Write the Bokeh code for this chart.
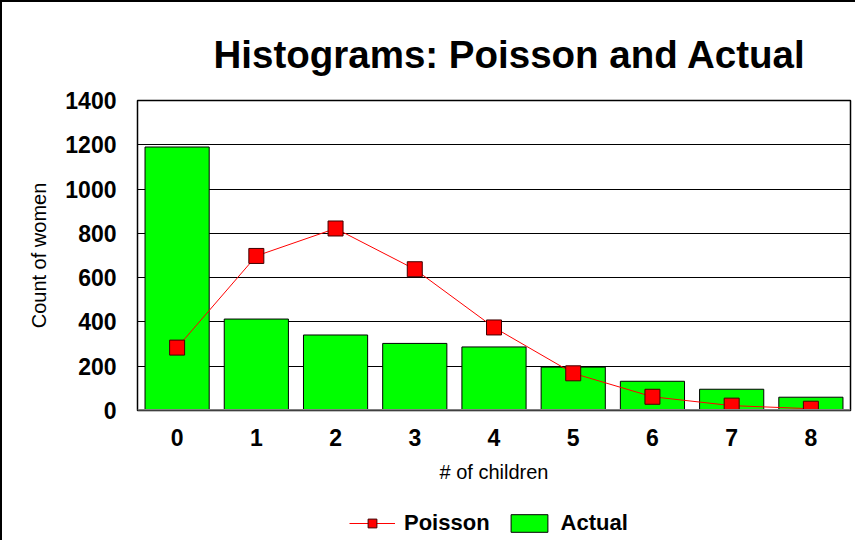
from bokeh.plotting import figure
from bokeh.layouts import column
from bokeh.models import Legend, LegendItem, FixedTicker, Range1d, Span
from bokeh.embed import file_html
from bokeh.resources import INLINE

children = ["0", "1", "2", "3", "4", "5", "6", "7", "8"]
actual = [1190, 413, 341, 303, 287, 196, 132, 96, 60]
poisson = [284, 698, 822, 638, 375, 168, 62, 22, 8]
y_ticks = [0, 200, 400, 600, 800, 1000, 1200, 1400]

FONT = "Liberation Sans"

p = figure(x_range=children, width=853, height=498, output_backend="svg",
           toolbar_location=None, min_border_left=135, min_border_right=5,
           min_border_top=98, min_border_bottom=90)
p.y_range = Range1d(0, 1400)
p.background_fill_color = "white"
p.border_fill_color = "white"
p.outline_line_color = "black"
p.outline_line_width = 1.5

p.title.text = "Histograms: Poisson and Actual"
p.title.text_font = FONT
p.title.text_font_size = "38.5px"
p.title.text_font_style = "bold"
p.title.text_color = "black"
p.title.align = "left"
p.title.offset = 76
p.title.standoff = 50

bars = p.vbar(x=children, top=actual, width=0.81, fill_color="#00FF00",
              line_color="black", line_width=1)
ln = p.line(x=children, y=poisson, line_color="red", line_width=1)
mk = p.scatter(x=children, y=poisson, marker="square", size=15,
               fill_color="red", line_color="#400000", line_width=1)

p.add_layout(Span(location=0, dimension="width", line_color="#808080", line_width=3))

p.xgrid.grid_line_color = None
p.ygrid.grid_line_color = "black"
p.ygrid.grid_line_width = 1
p.yaxis.ticker = FixedTicker(ticks=y_ticks)

for ax in (p.xaxis[0], p.yaxis[0]):
    ax.major_tick_line_color = None
    ax.minor_tick_line_color = None
    ax.axis_line_color = "black"
    ax.major_label_text_font = FONT
    ax.major_label_text_font_size = "23px"
    ax.major_label_text_font_style = "bold"
    ax.major_label_text_color = "black"
    ax.axis_label_text_font = FONT
    ax.axis_label_text_font_size = "20px"
    ax.axis_label_text_font_style = "normal"
    ax.axis_label_text_color = "black"

p.xaxis.axis_label = "# of children"
p.xaxis.major_label_standoff = 12
p.xaxis.axis_label_standoff = 12
p.yaxis.axis_label = "Count of women"
p.yaxis.major_label_standoff = 15
p.yaxis.axis_label_standoff = 12

# legend strip below the chart: same series, drawn outside its visible range
lg = figure(x_range=children, width=853, height=40, output_backend="svg",
            toolbar_location=None, y_range=Range1d(-2, -1),
            min_border_left=135, min_border_right=5, min_border_top=0,
            min_border_bottom=0)
lg.axis.visible = False
lg.grid.visible = False
lg.outline_line_color = None
l_ln = lg.line(x=children, y=poisson, line_color="red", line_width=1)
l_mk = lg.scatter(x=children, y=poisson, marker="square", size=15,
                  fill_color="red", line_color="#400000", line_width=1)
l_bar = lg.patch(x=children, y=actual, fill_color="#00FF00",
                 line_color="black", line_width=1)
legend = Legend(items=[LegendItem(label="Poisson", renderers=[l_ln, l_mk]),
                       LegendItem(label="Actual", renderers=[l_bar])],
                orientation="horizontal", location=(212, 4),
                label_text_font=FONT, label_text_font_size="22px",
                label_text_font_style="bold", label_text_color="black",
                glyph_width=46, glyph_height=22, label_standoff=9,
                spacing=16, border_line_color=None, background_fill_alpha=0,
                margin=0, padding=4)
lg.add_layout(legend)

layout = column(p, lg, spacing=0,
                styles={"border-left": "2px solid black",
                        "border-top": "2px solid black"})
open("out.html", "w").write(file_html(layout, INLINE))
